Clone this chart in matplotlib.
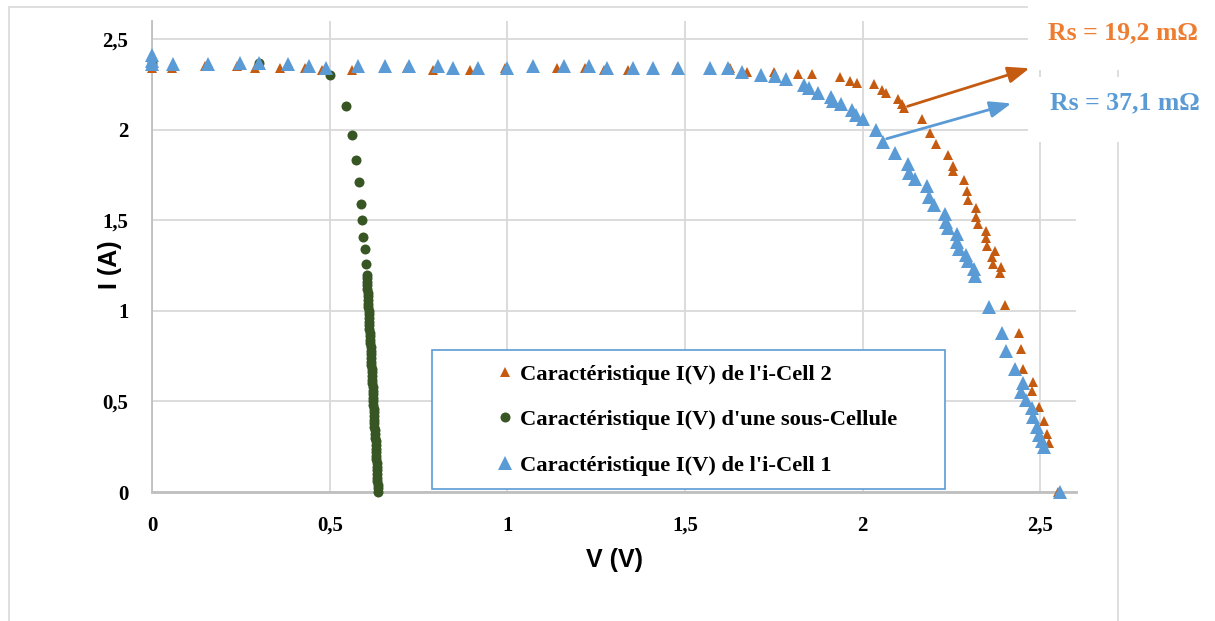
import matplotlib.pyplot as plt
from matplotlib.patches import Rectangle

# Caractéristiques I(V) : i-Cell 2, sous-cellule, i-Cell 1
v_cell2 = [0.000, 0.056, 0.149, 0.239, 0.290, 0.360, 0.430, 0.478, 0.562, 0.717,
           0.790, 0.894, 0.993, 1.069, 1.139, 1.218, 1.271, 1.339, 1.476, 1.625,
           1.673, 1.749, 1.817, 1.856, 1.935, 1.963, 1.985, 2.033, 2.053, 2.064,
           2.098, 2.109, 2.115, 2.168, 2.188, 2.205, 2.241, 2.253, 2.255, 2.286,
           2.292, 2.295, 2.320, 2.320, 2.323, 2.348, 2.348, 2.350, 2.371, 2.365,
           2.367, 2.390, 2.385, 2.399, 2.440, 2.446, 2.452, 2.480, 2.477, 2.497,
           2.511, 2.517, 2.525, 2.550]
i_cell2 = [2.34, 2.34, 2.35, 2.35, 2.34, 2.34, 2.34, 2.33, 2.33, 2.34,
           2.33, 2.33, 2.34, 2.34, 2.34, 2.34, 2.33, 2.33, 2.34, 2.34,
           2.32, 2.32, 2.31, 2.31, 2.29, 2.27, 2.26, 2.25, 2.22, 2.20,
           2.17, 2.14, 2.12, 2.06, 1.98, 1.92, 1.86, 1.80, 1.77, 1.72,
           1.66, 1.61, 1.57, 1.52, 1.48, 1.44, 1.40, 1.36, 1.33, 1.30,
           1.26, 1.24, 1.21, 1.03, 0.88, 0.79, 0.68, 0.61, 0.555, 0.47,
           0.39, 0.32, 0.27, 0.00]

v_sub = [0.000, 0.300, 0.500, 0.545, 0.562, 0.573, 0.582, 0.588, 0.591, 0.594,
         0.598, 0.601,
         0.604, 0.605, 0.605, 0.606, 0.606, 0.607, 0.607, 0.608, 0.608, 0.609,
         0.610, 0.610, 0.611, 0.611, 0.612, 0.612, 0.613, 0.613, 0.614, 0.614,
         0.615, 0.615, 0.616, 0.616, 0.617, 0.617, 0.618, 0.619, 0.619, 0.620,
         0.620, 0.621, 0.621, 0.622, 0.622, 0.623, 0.623, 0.624, 0.624, 0.625,
         0.625, 0.626, 0.626, 0.627, 0.628, 0.628, 0.629, 0.629, 0.630, 0.630,
         0.631, 0.631, 0.632, 0.632, 0.633, 0.633, 0.634, 0.634, 0.635, 0.635,
         0.636]
i_sub = [2.37, 2.37, 2.30, 2.13, 1.97, 1.83, 1.71, 1.59, 1.50, 1.41,
         1.34, 1.26,
         1.20, 1.18, 1.16, 1.14, 1.12, 1.10, 1.08, 1.06, 1.04, 1.02,
         1.00, 0.98, 0.96, 0.94, 0.92, 0.90, 0.88, 0.86, 0.84, 0.82,
         0.80, 0.78, 0.76, 0.74, 0.72, 0.70, 0.68, 0.66, 0.64, 0.62,
         0.60, 0.58, 0.56, 0.54, 0.52, 0.50, 0.48, 0.46, 0.44, 0.42,
         0.40, 0.38, 0.36, 0.34, 0.32, 0.30, 0.28, 0.26, 0.24, 0.22,
         0.20, 0.18, 0.16, 0.14, 0.12, 0.10, 0.08, 0.06, 0.04, 0.02,
         0.00]

v_cell1 = [0.000, 0.000, 0.000, 0.059, 0.157, 0.247, 0.301, 0.382, 0.441, 0.489,
           0.579, 0.655, 0.723, 0.804, 0.846, 0.917, 0.998, 1.071, 1.159, 1.229,
           1.280, 1.353, 1.409, 1.479, 1.569, 1.620, 1.659, 1.715, 1.752, 1.783,
           1.836, 1.850, 1.873, 1.912, 1.915, 1.940, 1.969, 1.982, 2.002, 2.036,
           2.058, 2.090, 2.126, 2.130, 2.148, 2.180, 2.185, 2.200, 2.230, 2.233,
           2.240, 2.264, 2.264, 2.270, 2.290, 2.295, 2.314, 2.317, 2.354, 2.393,
           2.404, 2.427, 2.450, 2.446, 2.460, 2.475, 2.478, 2.490, 2.497, 2.503,
           2.510, 2.555]
i_cell1 = [2.41, 2.38, 2.36, 2.36, 2.36, 2.37, 2.37, 2.36, 2.35, 2.34,
           2.35, 2.35, 2.35, 2.35, 2.34, 2.34, 2.34, 2.35, 2.35, 2.35,
           2.34, 2.34, 2.34, 2.34, 2.34, 2.34, 2.32, 2.30, 2.295, 2.28,
           2.245, 2.23, 2.20, 2.18, 2.16, 2.14, 2.11, 2.08, 2.06, 2.00,
           1.93, 1.87, 1.81, 1.76, 1.73, 1.69, 1.63, 1.585, 1.535, 1.49,
           1.46, 1.425, 1.38, 1.34, 1.31, 1.275, 1.23, 1.19, 1.02, 0.88,
           0.78, 0.68, 0.60, 0.55, 0.51, 0.465, 0.415, 0.36, 0.315, 0.28,
           0.25, 0.00]

labels = ["Caractéristique I(V) de l'i-Cell 2",
          "Caractéristique I(V) d'une sous-Cellule",
          "Caractéristique I(V) de l'i-Cell 1"]
rs_texts = ["Rs = 19,2 mΩ", "Rs = 37,1 mΩ"]

orange = '#C55A11'
orange_txt = '#ED7D31'
green = '#375623'
blue = '#5B9BD5'
grid_c = '#D9D9D9'
serif = 'Liberation Serif'
sans = 'Liberation Sans'

fig = plt.figure(figsize=(12.15, 6.21), dpi=100)
ax = fig.add_axes([0.1251, 0.2077, 0.7605, 0.7585])

# cadre extérieur du graphique
fig.patches.append(Rectangle((9 / 1215, -0.05), 1109 / 1215, 1.05 - 7 / 621,
                             transform=fig.transFigure, fill=False,
                             edgecolor=grid_c, linewidth=1.2, zorder=0))

ax.plot(v_cell2, i_cell2, '^', color=orange, ms=7.8, mew=0, label=labels[0], zorder=3, clip_on=False)
ax.plot(v_sub, i_sub, 'o', color=green, ms=7.2, mew=0, label=labels[1], zorder=3, clip_on=False)
ax.plot(v_cell1, i_cell1, '^', color=blue, ms=9.5, mew=0, label=labels[2], zorder=3, clip_on=False)

ax.set_xlim(0, 2.6)
ax.set_ylim(0, 2.6)
ax.set_xticks([0, 0.5, 1, 1.5, 2, 2.5])
ax.set_yticks([0, 0.5, 1, 1.5, 2, 2.5])
ax.set_xticklabels(['0', '0,5', '1', '1,5', '2', '2,5'])
ax.set_yticklabels(['0', '0,5', '1', '1,5', '2', '2,5'])
for t in ax.get_xticklabels() + ax.get_yticklabels():
    t.set_fontfamily(serif)
    t.set_fontweight('bold')
    t.set_fontsize(15)
ax.tick_params(axis='both', length=0)
ax.tick_params(axis='x', pad=17)
ax.tick_params(axis='y', pad=17)

ax.grid(True, color=grid_c, linewidth=1.3, zorder=0)
ax.set_axisbelow(True)
for s in ['top', 'right']:
    ax.spines[s].set_visible(False)
ax.spines['left'].set_color('#BFBFBF')
ax.spines['left'].set_linewidth(1.3)
ax.spines['bottom'].set_color('#BFBFBF')
ax.spines['bottom'].set_linewidth(2)

ax.set_xlabel('V (V)', fontfamily=sans, fontweight='bold', fontsize=18, labelpad=9)
ax.set_ylabel('I (A)', fontfamily=sans, fontweight='bold', fontsize=18)
ax.yaxis.set_label_coords(-0.033, 0.482)

# boîte de légende
ax.add_patch(Rectangle((0.303, 0.006), 0.555, 0.296, transform=ax.transAxes,
                       facecolor='white', edgecolor=blue, linewidth=1.2, zorder=4))
ax.legend(loc='center left', bbox_to_anchor=(0.372, 0.153), frameon=False,
          prop={'family': serif, 'weight': 'bold', 'size': 16.2},
          handlelength=0.8, handletextpad=0.3, borderpad=0, borderaxespad=0,
          labelspacing=1.1)

# flèches Rs
arrow_style = '-|>,head_length=1.3,head_width=0.5'
ax.annotate('', xy=(2.469, 2.339), xytext=(2.126, 2.129),
            arrowprops=dict(arrowstyle=arrow_style, color=orange, lw=2, shrinkA=0, shrinkB=0),
            zorder=6, annotation_clip=False)
ax.annotate('', xy=(2.418, 2.145), xytext=(2.067, 1.950),
            arrowprops=dict(arrowstyle=arrow_style, color=blue, lw=2, shrinkA=0, shrinkB=0),
            zorder=6, annotation_clip=False)

# zones blanches des étiquettes
fig.patches.append(Rectangle((1028 / 1215, 1 - 70 / 621), 187 / 1215, 70 / 621,
                             transform=fig.transFigure, facecolor='white', edgecolor='none', zorder=5))
fig.patches.append(Rectangle((1028 / 1215, 1 - 142 / 621), 187 / 1215, 65 / 621,
                             transform=fig.transFigure, facecolor='white', edgecolor='none', zorder=5))
fig.text(1123 / 1215, 1 - 33 / 621, rs_texts[0], color=orange_txt, fontfamily=serif,
         fontweight='bold', fontsize=18.5, ha='center', va='center', zorder=6)
fig.text(1125 / 1215, 1 - 103 / 621, rs_texts[1], color=blue, fontfamily=serif,
         fontweight='bold', fontsize=18.5, ha='center', va='center', zorder=6)

fig.savefig('out.png', dpi=100)
